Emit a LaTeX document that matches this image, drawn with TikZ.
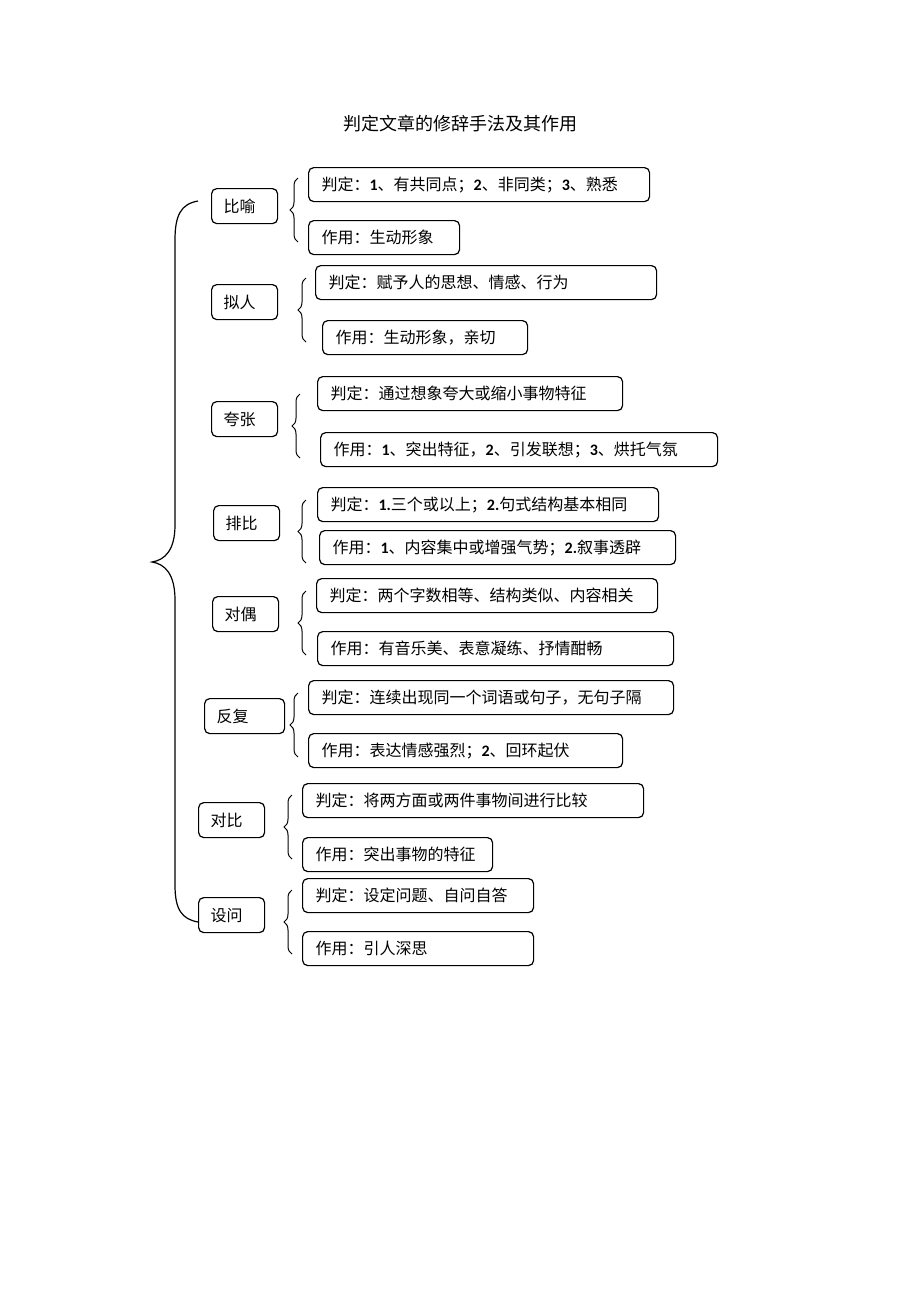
\documentclass[tikz,border=0pt]{standalone}
\usepackage{fontspec}
\setmainfont{Noto Sans CJK SC}
\newfontfamily\latinfont{Carlito}
\newcommand\nb[1]{{\latinfont\bfseries #1}}
\usetikzlibrary{decorations.pathreplacing}
\tikzset{
  device/.style={rectangle, rounded corners=1.8mm, draw, line width=1.2pt, anchor=north west, minimum height=35pt, inner xsep=12pt, align=left},
  detail/.style={rectangle, rounded corners=1.8mm, draw, line width=1.2pt, anchor=north west, minimum height=34pt, inner xsep=13pt, align=left},
  smallBrace/.style={decorate, decoration={brace, amplitude=8pt}, line width=1pt},
  bigBrace/.style={line width=1.2pt}
}

\begin{document}
\begin{tikzpicture}[x=1pt, y=-1pt, font=\fontsize{16}{19}\selectfont]
  \useasboundingbox (0,0) rectangle (920,1302);
  \node (title) at (460,124) {\fontsize{18}{22}\selectfont 判定文章的修辞手法及其作用};
  % the eight devices
  \node [device, text width=42pt] (by) at (211,188) {比喻};
  \node [device, text width=42pt] (nr) at (211,284) {拟人};
  \node [device, text width=42pt] (kz) at (211,401) {夸张};
  \node [device, text width=42pt] (pb) at (213,505) {排比};
  \node [device, text width=42pt] (do) at (212,596) {对偶};
  \node [device, text width=56pt] (ff) at (204,698) {反复};
  \node [device, text width=42pt] (db) at (198,802) {对比};
  \node [device, text width=42pt] (sw) at (198,897) {设问};
  % how to tell it / what it does
  \node [detail, text width=315pt] (by1) at (308,167) {判定：\nb{1}、有共同点；\nb{2}、非同类；\nb{3}、熟悉};
  \node [detail, text width=125pt] (by2) at (308,220) {作用：生动形象};
  \node [detail, text width=315pt] (nr1) at (315,265) {判定：赋予人的思想、情感、行为};
  \node [detail, text width=179pt] (nr2) at (322,320) {作用：生动形象，亲切};
  \node [detail, text width=279pt] (kz1) at (317,376) {判定：通过想象夸大或缩小事物特征};
  \node [detail, text width=371pt] (kz2) at (320,432) {作用：\nb{1}、突出特征，\nb{2}、引发联想；\nb{3}、烘托气氛};
  \node [detail, text width=315pt] (pb1) at (317,487) {判定：\nb{1.}三个或以上；\nb{2.}句式结构基本相同};
  \node [detail, text width=330pt] (pb2) at (319,530) {作用：\nb{1}、内容集中或增强气势；\nb{2.}叙事透辟};
  \node [detail, text width=315pt] (do1) at (316,578) {判定：两个字数相等、结构类似、内容相关};
  \node [detail, text width=330pt] (do2) at (317,631) {作用：有音乐美、表意凝练、抒情酣畅};
  \node [detail, text width=339pt] (ff1) at (308,680) {判定：连续出现同一个词语或句子，无句子隔};
  \node [detail, text width=288pt] (ff2) at (308,733) {作用：表达情感强烈；\nb{2}、回环起伏};
  \node [detail, text width=315pt] (db1) at (302,783) {判定：将两方面或两件事物间进行比较};
  \node [detail, text width=164pt] (db2) at (302,837) {作用：突出事物的特征};
  \node [detail, text width=205pt] (sw1) at (302,878) {判定：设定问题、自问自答};
  \node [detail, text width=205pt] (sw2) at (302,931) {作用：引人深思};
  % small braces
  \foreach \bx/\btop/\bbot in {298/178/242, 306/278/342, 300/394/458, 306/500/563,
                               306/591/655, 298/693/757, 292/795/859, 292/890/954}
    \draw [smallBrace] (\bx,\bbot) -- (\bx,\btop);
  % big brace
  \coordinate (top) at (198,201);
  \coordinate (bot) at (198,922);
  \draw [bigBrace] (top) .. controls (181,204) and (175,215) .. (175,240) -- (175,525)
    .. controls (175,550) and (165,560) .. (152,562)
    .. controls (165,564) and (175,574) .. (175,600) -- (175,885)
    .. controls (175,910) and (182,919) .. (bot);
\end{tikzpicture}
\end{document}
